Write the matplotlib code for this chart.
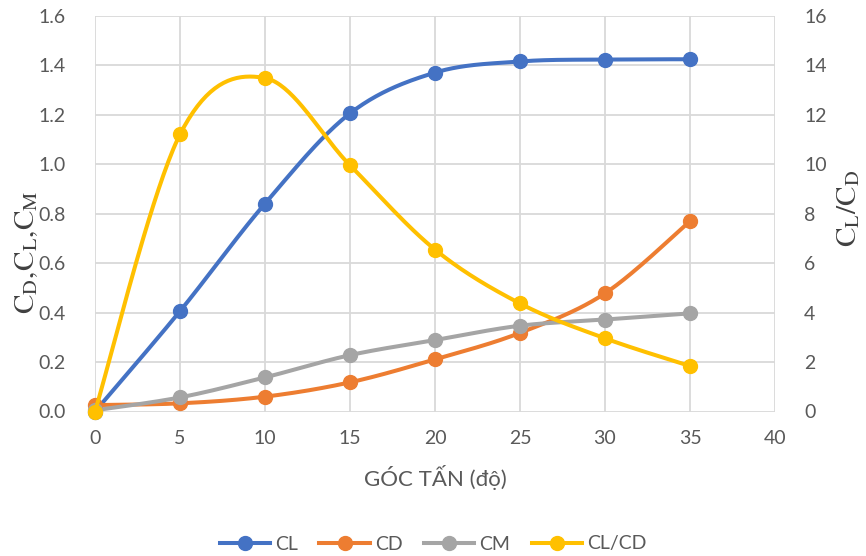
import numpy as np
import matplotlib
matplotlib.use("Agg")
import matplotlib.pyplot as plt
from matplotlib.lines import Line2D

# Angle of attack (degrees)
angle = [0, 5, 10, 15, 20, 25, 30, 35]
# Aerodynamic coefficients
cl = [0.0, 0.406, 0.841, 1.206, 1.371, 1.416, 1.424, 1.425]
cd = [0.026, 0.033, 0.060, 0.118, 0.211, 0.318, 0.478, 0.770]
cm = [0.005, 0.057, 0.138, 0.228, 0.289, 0.347, 0.372, 0.397]
# Lift-to-drag ratio (secondary axis)
cl_cd = [0.0, 11.21, 13.49, 9.96, 6.55, 4.37, 2.96, 1.84]

left_ticks = [0.0, 0.2, 0.4, 0.6, 0.8, 1.0, 1.2, 1.4, 1.6]
right_ticks = [0, 2, 4, 6, 8, 10, 12, 14, 16]
x_ticks = [0, 5, 10, 15, 20, 25, 30, 35, 40]

BLUE, ORANGE, GRAY, YELLOW = "#4472C4", "#ED7D31", "#A5A5A5", "#FFC000"
TXT = "#595959"
GRID = "#D9D9D9"

plt.rcParams["font.family"] = ["Lato", "DejaVu Sans"]
plt.rcParams["mathtext.fontset"] = "stix"


def smooth(x, y, n=40):
    """Cubic Bezier (Catmull-Rom) curve through the points."""
    p = np.column_stack([np.asarray(x, float), np.asarray(y, float)])
    out = [p[0]]
    t = np.linspace(0, 1, n)[1:, None]
    for i in range(len(p) - 1):
        p0 = p[i - 1] if i > 0 else p[i]
        p1, p2 = p[i], p[i + 1]
        p3 = p[i + 2] if i + 2 < len(p) else p[i + 1]
        c1 = p1 + (p2 - p0) / 6.0
        c2 = p2 - (p3 - p1) / 6.0
        seg = ((1 - t) ** 3) * p1 + 3 * ((1 - t) ** 2) * t * c1 + 3 * (1 - t) * t ** 2 * c2 + t ** 3 * p2
        out.extend(seg)
    out = np.array(out)
    return out[:, 0], out[:, 1]


fig = plt.figure(figsize=(8.66, 5.56), dpi=100)
ax = fig.add_axes([95 / 866, 1 - 411.5 / 556, 680 / 866, 395.5 / 556])
ax2 = ax.twinx()

LW = 2.9
MS = 10

for vals, col in [(cl, BLUE), (cd, ORANGE), (cm, GRAY)]:
    sx, sy = smooth(angle, vals)
    ax.plot(sx, sy, color=col, lw=LW, solid_capstyle="round", clip_on=False, zorder=3)
    ax.plot(angle, vals, "o", color=col, ms=MS, clip_on=False, zorder=4)

sx, sy = smooth(angle, cl_cd)
ax2.plot(sx, sy, color=YELLOW, lw=LW, solid_capstyle="round", clip_on=False, zorder=3)
ax2.plot(angle, cl_cd, "o", color=YELLOW, ms=MS, clip_on=False, zorder=4)

ax.set_xlim(0, 40)
ax.set_ylim(0, 1.6)
ax2.set_ylim(0, 16)
ax.set_xticks(x_ticks)
ax.set_yticks(left_ticks)
ax.set_yticklabels([f"{v:.1f}" for v in left_ticks])
ax2.set_yticks(right_ticks)

ax.grid(True, color=GRID, lw=1.3)
ax.set_axisbelow(True)
for a in (ax, ax2):
    for s in a.spines.values():
        s.set_visible(False)
    a.tick_params(length=0, labelsize=14, labelcolor=TXT)
ax.tick_params(axis="y", pad=21)
ax.tick_params(axis="x", pad=13)
ax2.tick_params(axis="y", pad=21)

ax.set_xlabel("GÓC TẤN (độ)", fontsize=16, color=TXT)
ax.xaxis.set_label_coords(0.5, -0.135)
fig.text(27 / 866, 1 - 252 / 556, r"$\mathrm{C_D{,}C_L{,}C_M}$", rotation=90,
         ha="center", va="center", fontsize=21, color="#404040")
fig.text(849 / 866, 1 - 208 / 556, r"$\mathrm{C_L/C_D}$", rotation=90,
         ha="center", va="center", fontsize=21, color="#404040")

handles = [Line2D([0], [0], color=c, lw=LW, marker="o", ms=MS) for c in (BLUE, ORANGE, GRAY, YELLOW)]
fig.legend(handles, ["CL", "CD", "CM", "CL/CD"], loc="center", bbox_to_anchor=(0.5, 1 - 544 / 556),
           ncol=4, frameon=False, fontsize=14, labelcolor=TXT, handlelength=2.6,
           handletextpad=0.25, columnspacing=1.1)

fig.savefig("out.png", dpi=100)
